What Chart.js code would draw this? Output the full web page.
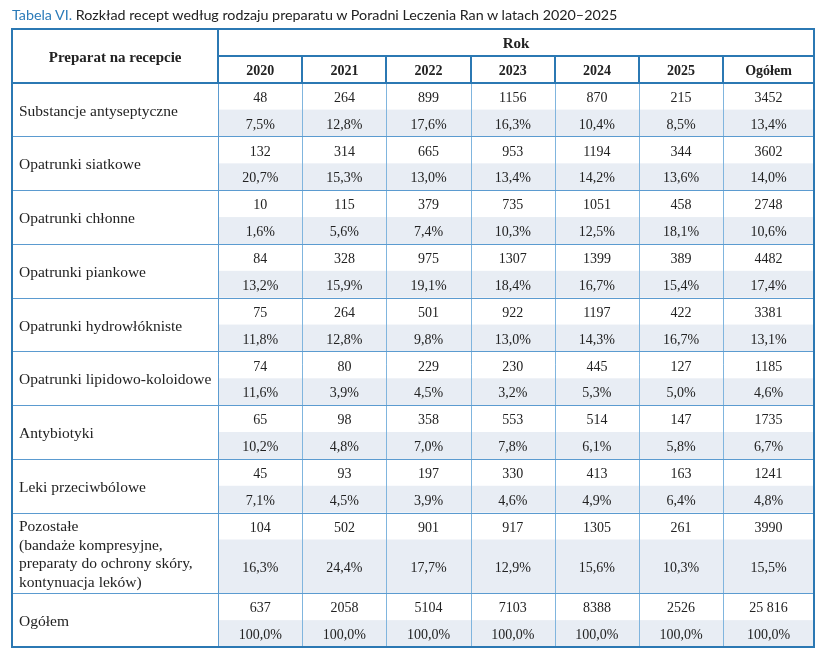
<!DOCTYPE html>
<html><head><meta charset="utf-8">
<script src="https://cdn.jsdelivr.net/npm/chart.js@4/dist/chart.umd.min.js"></script>
<style>
html,body{margin:0;padding:0;background:#fff;}
#wrap{position:relative;width:825px;height:659px;}
#title{position:absolute;left:12px;top:6px;font:14.3px Lato, sans-serif;color:#222;white-space:nowrap;z-index:2;}
#title span{color:#2b7bb9;}
canvas{position:absolute;left:0;top:0;}
</style></head><body>
<div id="wrap"><div id="title"><span>Tabela VI.</span> Rozkład recept według rodzaju preparatu w Poradni Leczenia Ran w latach 2020–2025</div><canvas id="c" width="825" height="659"></canvas></div>
<script>
// ---- data ----
const firstHeader = 'Preparat na recepcie';
const groupHeader = 'Rok';
const columns = ['2020', '2021', '2022', '2023', '2024', '2025', 'Ogółem'];
const categories = [
  'Substancje antyseptyczne',
  'Opatrunki siatkowe',
  'Opatrunki chłonne',
  'Opatrunki piankowe',
  'Opatrunki hydrowłókniste',
  'Opatrunki lipidowo-koloidowe',
  'Antybiotyki',
  'Leki przeciwbólowe',
  'Pozostałe\n(bandaże kompresyjne,\npreparaty do ochrony skóry,\nkontynuacja leków)',
  'Ogółem'
];
const counts = [
  [48, 264, 899, 1156, 870, 215, 3452],
  [132, 314, 665, 953, 1194, 344, 3602],
  [10, 115, 379, 735, 1051, 458, 2748],
  [84, 328, 975, 1307, 1399, 389, 4482],
  [75, 264, 501, 922, 1197, 422, 3381],
  [74, 80, 229, 230, 445, 127, 1185],
  [65, 98, 358, 553, 514, 147, 1735],
  [45, 93, 197, 330, 413, 163, 1241],
  [104, 502, 901, 917, 1305, 261, 3990],
  [637, 2058, 5104, 7103, 8388, 2526, 25816]
];
const percents = [
  [7.5, 12.8, 17.6, 16.3, 10.4, 8.5, 13.4],
  [20.7, 15.3, 13.0, 13.4, 14.2, 13.6, 14.0],
  [1.6, 5.6, 7.4, 10.3, 12.5, 18.1, 10.6],
  [13.2, 15.9, 19.1, 18.4, 16.7, 15.4, 17.4],
  [11.8, 12.8, 9.8, 13.0, 14.3, 16.7, 13.1],
  [11.6, 3.9, 4.5, 3.2, 5.3, 5.0, 4.6],
  [10.2, 4.8, 7.0, 7.8, 6.1, 5.8, 6.7],
  [7.1, 4.5, 3.9, 4.6, 4.9, 6.4, 4.8],
  [16.3, 24.4, 17.7, 12.9, 15.6, 10.3, 15.5],
  [100.0, 100.0, 100.0, 100.0, 100.0, 100.0, 100.0]
];

// ---- layout (scale units, not data) ----
const LABEL_COL = 2.45;     // width of label column in column units
const LAST_COL = 1.08;      // width of the "Ogółem" column
const HEADER_UNITS = 2;
const TEXT_DY = 2;          // baseline correction for the serif font
const C = {
  dark: '#2b78b3', mid: '#5b9bd0', light: '#80b5de', shade: '#e8edf4', text: '#222',
  serif: '"Liberation Serif", "Times New Roman", serif'
};

function colL(j) { return j; }
function colR(j) { return j === columns.length - 1 ? j + LAST_COL : j + 1; }
function colC(j) { return (colL(j) + colR(j)) / 2; }
const X_MAX = colR(columns.length - 1);

const rows = [];
(function () {
  let t = HEADER_UNITS;
  categories.forEach(function (c) {
    const lines = c.split('\n').length;
    const pu = Math.max(1, Math.ceil(lines / 2));
    rows.push({ top: t, pctTop: t + 1, bottom: t + 1 + pu });
    t = t + 1 + pu;
  });
})();
const Y_MAX = rows[rows.length - 1].bottom;

function fmtCount(n) { return n >= 10000 ? String(n).replace(/\B(?=(\d{3})+(?!\d))/g, ' ') : String(n); }
function fmtPct(n) { return n.toFixed(1).replace('.', ',') + '%'; }

const countPts = [], pctPts = [];
categories.forEach(function (c, i) {
  columns.forEach(function (col, j) {
    countPts.push({ x: colC(j), y: rows[i].top + 0.5, v: fmtCount(counts[i][j]) });
    pctPts.push({ x: colC(j), y: (rows[i].pctTop + rows[i].bottom) / 2, v: fmtPct(percents[i][j]) });
  });
});

function hline(ctx, x1, x2, y, w, col) {
  ctx.beginPath(); ctx.lineWidth = w; ctx.strokeStyle = col;
  const yy = w % 2 ? Math.round(y) + 0.5 : Math.round(y);
  ctx.moveTo(x1, yy); ctx.lineTo(x2, yy); ctx.stroke();
}
function vline(ctx, x, y1, y2, w, col) {
  ctx.beginPath(); ctx.lineWidth = w; ctx.strokeStyle = col;
  const xx = w % 2 ? Math.round(x) + 0.5 : Math.round(x);
  ctx.moveTo(xx, y1); ctx.lineTo(xx, y2); ctx.stroke();
}

const tablePlugin = {
  id: 'tablePlugin',
  beforeDatasetsDraw(chart) {
    const ctx = chart.ctx, xs = chart.scales.x, ys = chart.scales.y;
    const X = v => xs.getPixelForValue(v), Y = v => ys.getPixelForValue(v);
    ctx.save();
    ctx.fillStyle = C.shade;
    rows.forEach(function (r) {
      ctx.fillRect(X(0), Y(r.pctTop), X(X_MAX) - X(0), Y(r.bottom) - Y(r.pctTop));
    });
    for (let j = 1; j < columns.length; j++) vline(ctx, X(j), Y(HEADER_UNITS), Y(Y_MAX), 1, C.light);
    vline(ctx, X(0), Y(HEADER_UNITS), Y(Y_MAX), 1, C.mid);
    rows.forEach(function (r, i) {
      if (i < rows.length - 1) hline(ctx, X(-LABEL_COL), X(X_MAX), Y(r.bottom), 1, C.mid);
    });
    hline(ctx, X(0), X(X_MAX), Y(1), 2, C.dark);
    for (let j = 1; j < columns.length; j++) vline(ctx, X(j), Y(1), Y(2), 2, C.dark);
    vline(ctx, X(0), Y(0), Y(2), 2, C.dark);
    hline(ctx, X(-LABEL_COL), X(X_MAX), Y(2), 2, C.dark);
    ctx.lineWidth = 2; ctx.strokeStyle = C.dark;
    ctx.strokeRect(Math.round(X(-LABEL_COL)), Math.round(Y(0)), Math.round(X(X_MAX)) - Math.round(X(-LABEL_COL)), Math.round(Y(Y_MAX)) - Math.round(Y(0)));
    ctx.restore();
  },
  afterDatasetsDraw(chart) {
    const ctx = chart.ctx, xs = chart.scales.x, ys = chart.scales.y;
    const X = v => xs.getPixelForValue(v), Y = v => ys.getPixelForValue(v);
    ctx.save();
    ctx.fillStyle = C.text;
    ctx.textBaseline = 'middle';
    ctx.font = 'bold 15px ' + C.serif;
    ctx.textAlign = 'center';
    ctx.fillText(firstHeader, X(-LABEL_COL / 2), Y(1) + TEXT_DY);
    ctx.fillText(groupHeader, X(X_MAX / 2), Y(0.5) + TEXT_DY);
    ctx.font = 'bold 14px ' + C.serif;
    columns.forEach(function (c, j) { ctx.fillText(c, X(colC(j)), Y(1.5) + TEXT_DY); });
    ctx.font = '15.5px ' + C.serif;
    ctx.textAlign = 'left';
    const LH = 18.8;
    categories.forEach(function (c, i) {
      const lines = c.split('\n');
      const cy = (Y(rows[i].top) + Y(rows[i].bottom)) / 2 + TEXT_DY;
      lines.forEach(function (ln, k) {
        ctx.fillText(ln, X(-LABEL_COL) + 7, cy + (k - (lines.length - 1) / 2) * LH);
      });
    });
    ctx.font = '14px ' + C.serif;
    ctx.textAlign = 'center';
    chart.data.datasets.forEach(function (ds, di) {
      const meta = chart.getDatasetMeta(di);
      meta.data.forEach(function (el, k) {
        ctx.fillText(ds.data[k].v, el.x, el.y + TEXT_DY);
      });
    });
    ctx.restore();
  }
};

new Chart(document.getElementById('c'), {
  type: 'scatter',
  data: {
    datasets: [
      { label: 'Liczba', data: countPts, pointRadius: 0, pointHoverRadius: 0 },
      { label: 'Odsetek', data: pctPts, pointRadius: 0, pointHoverRadius: 0 }
    ]
  },
  options: {
    responsive: false,
    animation: false,
    events: [],
    layout: { padding: { left: 12, top: 29, right: 11, bottom: 12 } },
    scales: {
      x: { type: 'linear', min: -LABEL_COL, max: X_MAX, display: false },
      y: { type: 'linear', min: 0, max: Y_MAX, reverse: true, display: false }
    },
    plugins: { legend: { display: false }, tooltip: { enabled: false } }
  },
  plugins: [tablePlugin]
});
</script>
</body></html>
